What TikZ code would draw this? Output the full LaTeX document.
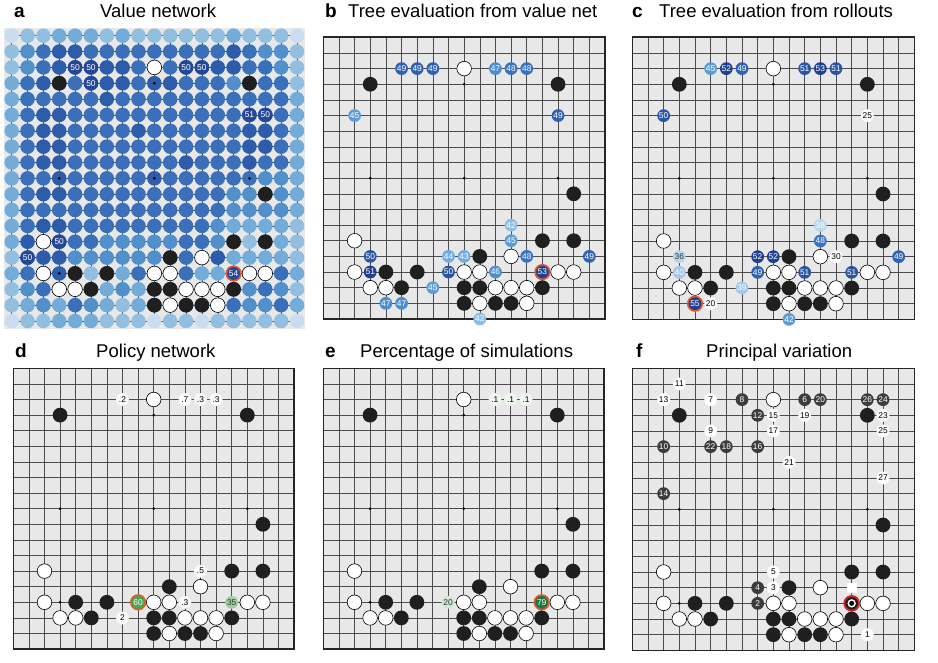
\documentclass[tikz,border=0pt]{standalone}
\usepackage{fontspec}
\setmainfont{Liberation Sans}
\definecolor{acol0}{HTML}{C9DCF0}
\definecolor{acol1}{HTML}{92BFE0}
\definecolor{acol2}{HTML}{74ACD9}
\definecolor{acol3}{HTML}{5290CC}
\definecolor{acol4}{HTML}{3A6FB9}
\definecolor{acol5}{HTML}{2D5CAA}
\definecolor{acol6}{HTML}{24479A}
\definecolor{vA}{HTML}{B9D6EE}
\definecolor{vB}{HTML}{A3C8EA}
\definecolor{vC}{HTML}{8EBDE6}
\definecolor{vD}{HTML}{74ACE0}
\definecolor{vE}{HTML}{5E9CD6}
\definecolor{vF}{HTML}{4F8ECD}
\definecolor{vG}{HTML}{3A72BD}
\definecolor{vH}{HTML}{2F63B2}
\definecolor{vI}{HTML}{2A55A3}
\definecolor{vJ}{HTML}{1F4190}
\definecolor{ringc}{HTML}{E4572E}
\definecolor{redring}{HTML}{D9262B}
\definecolor{dpale}{HTML}{F8FBF8}
\definecolor{epale}{HTML}{EEF6EE}
\definecolor{gpale}{HTML}{CFE6CF}
\definecolor{glight}{HTML}{9FD19F}
\definecolor{gmid}{HTML}{4AA84F}
\definecolor{gdark}{HTML}{1B7A43}
\definecolor{fdark}{HTML}{3C3C3C}
\definecolor{boardbg}{HTML}{E8E8E8}
\tikzset{
  wst/.style={fill=white, draw=black, line width=0.6pt},
  bst/.style={fill=black!88},
  gline/.style={draw=black!70, line width=0.55pt},
  frm/.style={draw=black!85, line width=1.6pt},
  lbl/.style={circle, inner sep=0pt, minimum size=12.8pt, font=\fontsize{8.4}{8.4}\selectfont},
  ringed/.style={draw=ringc, line width=1.6pt, minimum size=14.6pt},
  ttl/.style={anchor=base west, inner sep=0pt, font=\fontsize{18.5}{22}\selectfont},
  ltr/.style={anchor=base west, inner sep=0pt, font=\fontsize{19}{22}\selectfont\bfseries},
}
\newcommand\Wst[2]{\draw[wst] (#1,#2) circle (7.3pt);}
\newcommand\Bst[2]{\fill[bst] (#1,#2) circle (7.4pt);}
\newcommand\Lab[5]{\node[lbl, fill=#3, text=#4] (\pfx-#1-#2) at (#1,#2) {#5};}
\newcommand\RLab[5]{\node[lbl, ringed, fill=#3, text=#4] (\pfx-#1-#2) at (#1,#2) {#5};}
\newcommand\boardbg{%
  \fill[boardbg] (0,0) rectangle (18,18);
  \foreach \k in {1,...,17}{\draw[gline] (\k,0) -- (\k,18); \draw[gline] (0,\k) -- (18,\k);}
  \draw[frm] (0,0) rectangle (18,18);
  \foreach \i in {3,9,15}{\foreach \j in {3,9,15}{\fill (\i,\j) circle (1.5pt);}}
}
\newcommand\stones{%
  \foreach \cc/\rr in {9/2,2/13,12/14,2/15,9/15,10/15,15/15,16/15,3/16,4/16,11/16,12/16,13/16,10/17,13/17}{\Wst{\cc}{\rr}}
  \foreach \cc/\rr in {3/3,15/3,16/10,14/13,16/13,10/14,4/15,6/15,5/16,9/16,10/16,14/16,9/17,11/17,12/17}{\Bst{\cc}{\rr}}
}
\begin{document}
\begin{tikzpicture}[x=1pt, y=-1pt]
\useasboundingbox (0,0) rectangle (938,663);
\fill[white] (0,0) rectangle (938,663);

% titles
\node[ltr] (ta) at (14,18) {a};
\node[ttl] (tta) at (100,18) {Value network};
\node[ltr] (tb) at (325,18) {b};
\node[ttl] (ttb) at (348,18) {Tree evaluation from value net};
\node[ltr] (tc) at (632,18) {c};
\node[ttl] (ttc) at (659,18) {Tree evaluation from rollouts};
\node[ltr] (td) at (15,358) {d};
\node[ttl] (ttd) at (96,358) {Policy network};
\node[ltr] (te) at (325,358) {e};
\node[ttl] (tte) at (360,358) {Percentage of simulations};
\node[ltr] (tf) at (636,358) {f};
\node[ttl] (ttf) at (706,358) {Principal variation};

% ---------------- panel a
\begin{scope}[shift={(11.7pt,-35.7pt)}, x=15.85pt, y=-15.85pt]
  \def\pfx{a}
  \tikzset{lbl/.append style={minimum size=14.6pt}}
  \fill[boardbg] (-0.5,-0.5) rectangle (18.5,18.5);
  \foreach \k in {0,...,18}{\draw[gline, line width=0.5pt] (\k,-0.45) -- (\k,18.45); \draw[gline, line width=0.5pt] (-0.45,\k) -- (18.45,\k);}
  \foreach \vals [count=\rr from 0] in {
    {0,1,1,2,2,2,1,2,1,1,1,1,1,1,2,1,1,1,0},
    {1,3,4,5,5,4,4,4,4,4,4,4,4,4,5,4,3,3,1},
    {1,3,4,5,6,6,5,5,4,4,4,6,6,5,5,4,4,3,1},
    {2,4,5,5,4,6,5,5,4,5,5,4,4,4,3,5,4,4,1},
    {2,4,4,4,4,4,5,4,4,4,4,4,4,4,4,4,4,4,2},
    {2,4,5,5,4,4,4,4,4,4,4,4,4,4,4,6,6,4,2},
    {2,4,5,5,4,4,4,4,5,4,4,4,4,4,4,5,5,4,2},
    {2,4,5,5,4,4,4,4,4,4,4,4,4,4,4,5,5,4,2},
    {2,4,5,5,4,4,4,4,4,4,4,5,4,4,4,5,4,4,2},
    {2,4,4,5,4,4,4,4,4,5,4,4,4,4,4,4,3,3,2},
    {2,4,5,5,4,4,4,4,4,4,4,4,4,4,3,3,3,3,2},
    {2,4,4,4,4,4,4,4,4,4,4,4,4,4,3,3,3,3,2},
    {2,4,5,5,4,4,4,4,4,4,4,4,4,3,2,2,2,2,1},
    {2,5,4,6,4,4,3,3,3,3,3,4,4,3,3,1,3,2,1},
    {1,6,5,5,3,3,3,3,3,3,3,4,4,5,2,2,2,2,1},
    {2,4,4,5,4,1,4,2,4,4,4,4,2,2,6,4,4,4,2},
    {1,3,4,4,4,4,2,3,2,4,4,4,4,4,4,3,4,3,1},
    {1,2,3,2,4,3,2,1,2,4,4,4,4,4,4,3,3,4,2},
    {0,1,1,2,2,2,1,1,1,0,1,1,0,1,1,1,1,1,0}}{
    \foreach \v [count=\cc from 0] in \vals {\fill[acol\v] (\cc,\rr) circle (7.3pt);}
  }
  \foreach \i in {3,9,15}{\foreach \j in {3,9,15}{\fill (\i,\j) circle (1.5pt);}}
  \stones
  \Lab{4}{2}{acol6}{white}{50}
  \Lab{5}{2}{acol6}{white}{50}
  \Lab{5}{3}{acol6}{white}{50}
  \Lab{11}{2}{acol6}{white}{50}
  \Lab{12}{2}{acol6}{white}{50}
  \Lab{15}{5}{acol6}{white}{51}
  \Lab{16}{5}{acol6}{white}{50}
  \Lab{3}{13}{acol6}{white}{50}
  \Lab{1}{14}{acol6}{white}{50}
  \RLab{14}{15}{acol6}{white}{54}
\end{scope}

% ---------------- panel b
\begin{scope}[shift={(323.3pt,-37.3pt)}, x=15.65pt, y=-15.65pt]
  \def\pfx{b}
  \boardbg
  \stones
  \Lab{5}{2}{vH}{white}{49}
  \Lab{6}{2}{vH}{white}{49}
  \Lab{7}{2}{vH}{white}{49}
  \Lab{11}{2}{vF}{white}{47}
  \Lab{12}{2}{vG}{white}{48}
  \Lab{13}{2}{vG}{white}{48}
  \Lab{2}{5}{vE}{white}{45}
  \Lab{15}{5}{vH}{white}{49}
  \Lab{12}{12}{vC}{white}{42}
  \Lab{12}{13}{vE}{white}{45}
  \Lab{3}{14}{vI}{white}{50}
  \Lab{8}{14}{vD}{white}{44}
  \Lab{9}{14}{vD}{white}{43}
  \Lab{13}{14}{vG}{white}{48}
  \Lab{17}{14}{vH}{white}{49}
  \Lab{3}{15}{vJ}{white}{51}
  \Lab{8}{15}{vI}{white}{50}
  \Lab{11}{15}{vF}{white}{46}
  \RLab{14}{15}{vJ}{white}{53}
  \Lab{7}{16}{vE}{white}{45}
  \Lab{4}{17}{vF}{white}{47}
  \Lab{5}{17}{vF}{white}{47}
  \Lab{10}{18}{vC}{white}{42}
\end{scope}

% ---------------- panel c
\begin{scope}[shift={(632.3pt,-37.3pt)}, x=15.67pt, y=-15.67pt]
  \def\pfx{c}
  \boardbg
  \stones
  \Lab{5}{2}{vE}{white}{45}
  \Lab{6}{2}{vJ}{white}{52}
  \Lab{7}{2}{vH}{white}{49}
  \Lab{11}{2}{vI}{white}{51}
  \Lab{12}{2}{vJ}{white}{53}
  \Lab{13}{2}{vI}{white}{51}
  \Lab{2}{5}{vI}{white}{50}
  \Lab{15}{5}{white}{black}{25}
  \Lab{12}{12}{vA}{white}{38}
  \Lab{12}{13}{vG}{white}{48}
  \Lab{3}{14}{vA}{black!80}{36}
  \Lab{8}{14}{vJ}{white}{52}
  \Lab{9}{14}{vJ}{white}{52}
  \Lab{13}{14}{white}{black}{30}
  \Lab{17}{14}{vH}{white}{49}
  \Lab{3}{15}{vB}{white}{40}
  \Lab{8}{15}{vH}{white}{49}
  \Lab{11}{15}{vI}{white}{51}
  \Lab{14}{15}{vI}{white}{51}
  \Lab{7}{16}{vB}{white}{39}
  \RLab{4}{17}{vJ}{white}{55}
  \Lab{5}{17}{white}{black}{20}
  \Lab{10}{18}{vE}{white}{42}
\end{scope}

% ---------------- panel d
\begin{scope}[shift={(13.3pt,-368.3pt)}, x=15.6pt, y=-15.6pt]
  \def\pfx{d}
  \boardbg
  \stones
  \Lab{7}{2}{dpale}{black}{.2}
  \Lab{11}{2}{dpale}{black}{.7}
  \Lab{12}{2}{dpale}{black}{.3}
  \Lab{13}{2}{dpale}{black}{.3}
  \Lab{12}{13}{dpale}{black}{.5}
  \RLab{8}{15}{gmid}{white}{60}
  \Lab{11}{15}{dpale}{black}{.3}
  \Lab{14}{15}{glight}{black!80}{35}
  \Lab{7}{16}{dpale}{black}{2}
\end{scope}

% ---------------- panel e
\begin{scope}[shift={(323.3pt,-368.3pt)}, x=15.6pt, y=-15.6pt]
  \def\pfx{e}
  \boardbg
  \stones
  \Lab{11}{2}{epale}{black}{.1}
  \Lab{12}{2}{epale}{black}{.1}
  \Lab{13}{2}{epale}{black}{.1}
  \Lab{8}{15}{gpale}{black!80}{20}
  \RLab{14}{15}{gdark}{white}{79}
\end{scope}

% ---------------- panel f
\begin{scope}[shift={(632.3pt,-368.3pt)}, x=15.67pt, y=-15.67pt]
  \def\pfx{f}
  \boardbg
  \stones
  \draw[redring, line width=1.8pt, fill=black!88] (14,15) circle (7.4pt);
  \fill[white] (14,15) circle (4.2pt);
  \fill[black] (14,15) circle (2.5pt);
  \fill[white] (14,14) +(-5pt,-5pt) rectangle +(5pt,5pt);
  \foreach \cc/\rr/\t in {3/1/11,2/2/13,5/2/7,9/3/15,11/3/19,16/3/23,5/4/9,9/4/17,16/4/25,10/6/21,16/7/27,9/13/5,9/14/3,15/17/1}{\Lab{\cc}{\rr}{white}{black}{\t}}
  \foreach \cc/\rr/\t in {7/2/8,11/2/6,12/2/20,15/2/26,16/2/24,8/3/12,2/5/10,5/5/22,6/5/18,8/5/16,2/8/14,8/14/4,8/15/2}{\Lab{\cc}{\rr}{fdark}{white}{\t}}
\end{scope}
\end{tikzpicture}
\end{document}
